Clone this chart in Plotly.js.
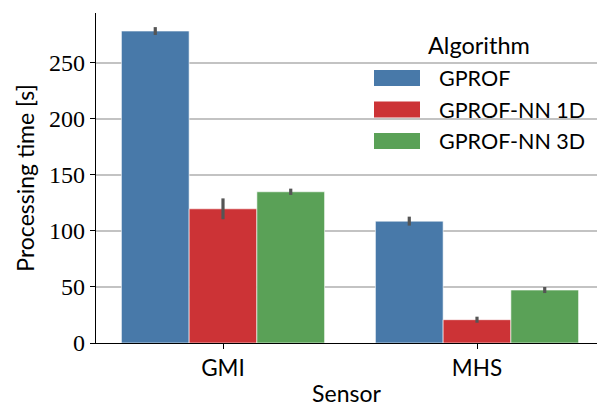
<!DOCTYPE html>
<html>
<head>
<meta charset="utf-8">
<script src="https://cdn.plot.ly/plotly-3.0.1.min.js"></script>
<style>html,body{margin:0;padding:0;background:#fff;}#chart{width:597px;height:407px;}</style>
</head>
<body>
<div id="chart"></div>
<script>
const categories = ['GMI', 'MHS'];
const algorithms = ['GPROF', 'GPROF-NN 1D', 'GPROF-NN 3D'];
const gprof = [278.5, 108.8];
const gprofErr = [3.5, 4.0];
const nn1d = [119.8, 20.8];
const nn1dErr = [9.3, 2.7];
const nn3d = [135.0, 47.3];
const nn3dErr = [2.8, 2.7];
const yTicks = [0, 50, 100, 150, 200, 250];

const colors = ['#4879a9', '#cc3336', '#5aa157'];
const values = [gprof, nn1d, nn3d];
const errors = [gprofErr, nn1dErr, nn3dErr];

const sans = 'Lato, "DejaVu Sans", sans-serif';
const serif = '"Liberation Serif", "DejaVu Serif", serif';

const traces = algorithms.map((name, i) => ({
  type: 'bar',
  name: name,
  x: categories,
  y: values[i],
  marker: {color: colors[i], line: {color: 'rgba(255,255,255,0.6)', width: 1}},
  error_y: {type: 'data', array: errors[i], visible: true, color: '#555555', thickness: 3.2, width: 0}
}));

// manual legend (matplotlib style wide patches)
const plotL = 96, plotW = 501, plotT = 13, plotH = 330;
const px2x = p => (p - plotL) / plotW;
const py2y = p => (plotT + plotH - p) / plotH;
const legendRows = [78, 109.5, 141];
const shapes = [];
const annotations = [];
algorithms.forEach((name, i) => {
  shapes.push({type: 'rect', xref: 'paper', yref: 'paper',
    x0: px2x(374), x1: px2x(420), y0: py2y(legendRows[i] + 8), y1: py2y(legendRows[i] - 8),
    fillcolor: colors[i], line: {width: 0}});
  annotations.push({xref: 'paper', yref: 'paper', x: px2x(437), y: py2y(legendRows[i]),
    xanchor: 'left', yanchor: 'middle', text: name, showarrow: false,
    font: {family: sans, size: 21.5, color: '#000'}});
});
annotations.push({xref: 'paper', yref: 'paper', x: px2x(479), y: py2y(45),
  xanchor: 'center', yanchor: 'middle', text: 'Algorithm', showarrow: false,
  font: {family: sans, size: 23.5, color: '#000'}});

const layout = {
  width: 597, height: 407,
  margin: {l: plotL, r: 0, t: plotT, b: 64, pad: 0},
  paper_bgcolor: '#fff', plot_bgcolor: '#fff',
  barmode: 'group', bargap: 0.2, bargroupgap: 0,
  showlegend: false,
  xaxis: {
    type: 'category', range: [-0.5, -0.5 + plotW / 254],
    showline: true, linecolor: '#000', linewidth: 1.3,
    ticks: 'outside', ticklen: 5, tickcolor: '#000', tickwidth: 1,
    showgrid: false, zeroline: false,
    tickfont: {family: sans, size: 22.5, color: '#000'},
    title: {text: 'Sensor', font: {family: sans, size: 23, color: '#000'}, standoff: 6},
    layer: 'above traces'
  },
  yaxis: {
    range: [0, 294.6],
    tickvals: yTicks, ticktext: yTicks.map(String),
    showline: true, linecolor: '#000', linewidth: 1.3,
    ticks: 'outside', ticklen: 5, tickcolor: '#000', tickwidth: 1,
    showgrid: true, gridcolor: 'rgba(185,185,185,0.85)', gridwidth: 1.2,
    zeroline: false,
    tickfont: {family: serif, size: 24, color: '#000'},
    title: {text: 'Processing time [s]', font: {family: sans, size: 23, color: '#000'}, standoff: 8},
    layer: 'above traces'
  },
  shapes: shapes,
  annotations: annotations
};

Plotly.newPlot('chart', traces, layout, {displayModeBar: false, staticPlot: true});
</script>
</body>
</html>
